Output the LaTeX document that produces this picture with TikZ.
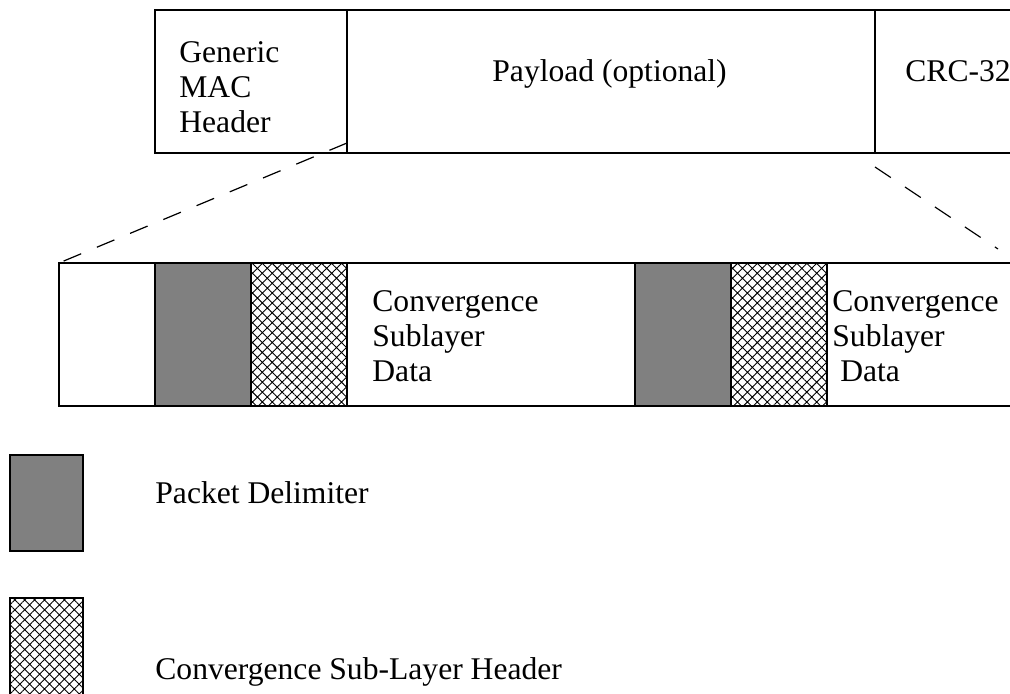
\documentclass[tikz,border=0pt]{standalone}
\usepackage{fontspec}
\setmainfont{Liberation Serif}
\usetikzlibrary{patterns.meta}

\tikzset{
  seg/.style={rectangle, draw=black, line width=1.2pt, outer sep=0pt, minimum height=71.5pt},
  delim/.style={seg, fill=gray},
  cshdr/.style={seg, pattern={Hatch[angle=45,distance=3.5pt,line width=0.45pt]}},
  frame/.style={line width=1.2pt},
  zoomline/.style={line width=0.6pt, dash pattern=on 9.5pt off 8.5pt},
  lbl/.style={anchor=base west, inner sep=0pt},
  blk/.style={anchor=north west, align=left, inner sep=0pt}
}

\begin{document}
\begin{tikzpicture}[x=0.5pt,y=-0.5pt, font=\fontsize{15.8}{17.5}\selectfont]
\useasboundingbox (0,0) rectangle (1010,694);
% MAC PDU
\node (mac) at (251,81.5) [seg, minimum width=96pt] {};
\node (payload) at (611,81.5) [seg, minimum width=264pt] {};
\coordinate (topTR) at (1015,10);
\coordinate (topBR) at (1015,153);
\draw[frame] (payload.north east) -- (topTR);
\draw[frame] (payload.south east) -- (topBR);
\node (mactext) at (179,41.5) [blk] {Generic\\MAC\\Header};
\node (paytext) at (492,82) [lbl] {Payload (optional)};
\node (crctext) at (905,82) [lbl] {CRC-32};
% payload contents
\node (lead) at (107,334.5) [seg, minimum width=48pt] {};
\node (delimA) at (203,334.5) [delim, minimum width=48pt] {};
\node (hdrA) at (299,334.5) [cshdr, minimum width=48pt] {};
\node (dataA) at (491,334.5) [seg, minimum width=144pt] {};
\node (delimB) at (683,334.5) [delim, minimum width=48pt] {};
\node (hdrB) at (779,334.5) [cshdr, minimum width=48pt] {};
\coordinate (barTR) at (1015,263);
\coordinate (barBR) at (1015,406);
\draw[frame] (hdrB.north east) -- (barTR);
\draw[frame] (hdrB.south east) -- (barBR);
\node (dataAtext) at (372,290) [blk] {Convergence\\Sublayer\\Data};
\node (dataBtext) at (832,290) [blk] {Convergence\\Sublayer\\\ Data};
% zoom lines
\coordinate (zoomL) at (347,143);
\coordinate (zoomRa) at (875,167);
\coordinate (zoomRb) at (998,249);
\draw[zoomline] (zoomL) -- (lead.north west);
\draw[zoomline] (zoomRa) -- (zoomRb);
% key
\node (keydelim) at (46.5,503) [delim, minimum width=36.5pt, minimum height=48pt] {};
\node (keyhdr) at (46.5,649) [cshdr, minimum width=36.5pt, minimum height=51pt] {};
\node (keydelimtext) at (155,503) [lbl] {Packet Delimiter};
\node (keyhdrtext) at (155,679) [lbl] {Convergence Sub-Layer Header};
\end{tikzpicture}
\end{document}
